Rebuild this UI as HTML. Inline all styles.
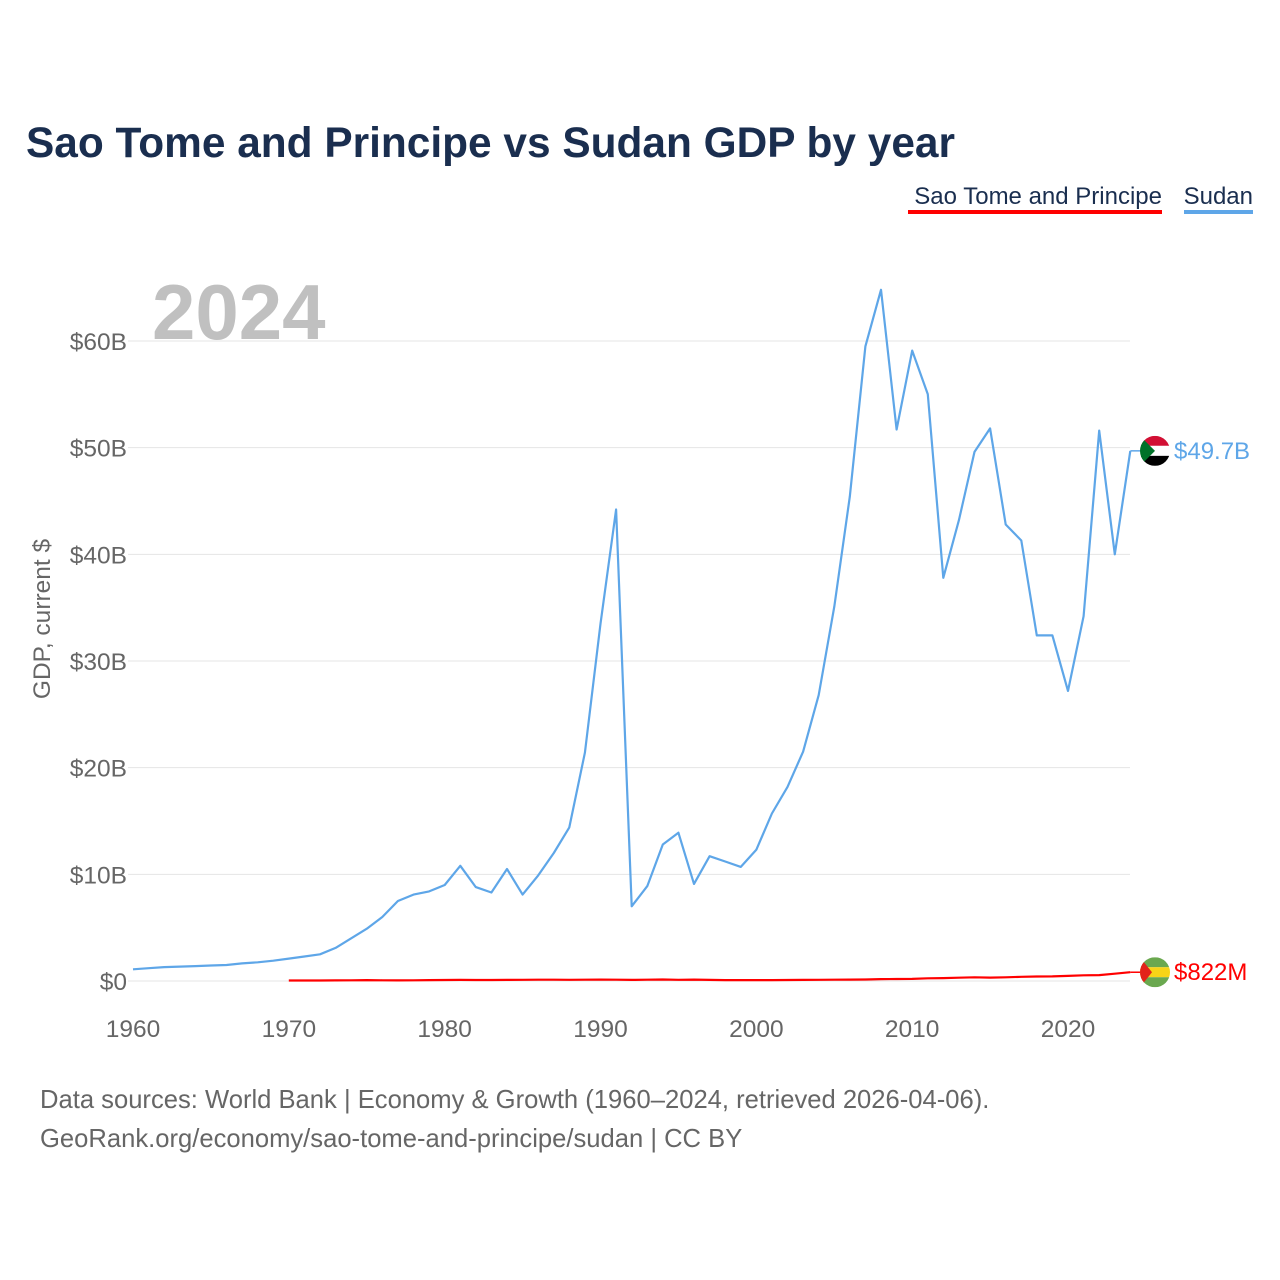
<!DOCTYPE html>
<html><head><meta charset="utf-8"><style>
body{margin:0;background:#fff;font-family:"Liberation Sans",sans-serif;}
svg{display:block}
</style></head><body>
<svg width="1280" height="1280" viewBox="0 0 1280 1280" id="chart">
<text x="26" y="157" font-size="42.4" font-weight="bold" fill="#1a2e4f">Sao Tome and Principe vs Sudan GDP by year</text>
<g>
<text x="1162" y="204" font-size="24" fill="#1a2e4f" text-anchor="end">Sao Tome and Principe</text>
<rect x="908" y="210" width="254" height="4" fill="#ff0000"/>
</g>
<g>
<text x="1253" y="204" font-size="24" fill="#1a2e4f" text-anchor="end">Sudan</text>
<rect x="1184" y="210" width="69" height="4" fill="#5ea6e8"/>
</g>
<text x="152" y="339" font-size="78" font-weight="bold" fill="#c0c0c0">2024</text>
<g id="grid"></g><g id="yt"></g><g id="xt"></g>
<text transform="translate(50,619) rotate(-90)" font-size="24.5" fill="#666" text-anchor="middle">GDP, current $</text>
<g id="lines"></g>
<text x="40" y="1108" font-size="25.6" fill="#666">Data sources: World Bank | Economy &amp; Growth (1960–2024, retrieved 2026-04-06).</text>
<text x="40" y="1147" font-size="25.6" fill="#666">GeoRank.org/economy/sao-tome-and-principe/sudan | CC BY</text>
</svg>
<script>
const sudanStart = 1960;
const sudanValues = [1.1,1.2,1.3,1.35,1.4,1.45,1.5,1.65,1.75,1.9,2.1,2.3,2.5,3.1,4.0,4.9,6.0,7.5,8.1,8.4,9.0,10.8,8.8,8.3,10.5,8.1,9.9,12.0,14.4,21.4,33.5,44.2,7.0,8.9,12.8,13.9,9.1,11.7,11.2,10.7,12.3,15.7,18.2,21.5,26.8,35.1,45.4,59.5,64.8,51.7,59.1,55.0,37.8,43.2,49.6,51.8,42.8,41.3,32.4,32.4,27.2,34.2,51.6,40.0,49.7];
const stpStart = 1970;
const stpValues = [0.05,0.05,0.05,0.06,0.07,0.08,0.07,0.06,0.07,0.08,0.09,0.1,0.09,0.09,0.1,0.11,0.12,0.12,0.11,0.12,0.13,0.12,0.1,0.12,0.14,0.11,0.13,0.1,0.08,0.08,0.08,0.08,0.09,0.1,0.11,0.12,0.13,0.14,0.18,0.19,0.2,0.25,0.27,0.31,0.35,0.32,0.35,0.39,0.42,0.43,0.48,0.53,0.55,0.68,0.822];
const yTicks = [0,10,20,30,40,50,60];
const yTickLabels = ["$0","$10B","$20B","$30B","$40B","$50B","$60B"];
const xTicks = [1960,1970,1980,1990,2000,2010,2020];
const x = yr => 133 + (yr-1960)*(935/60);
const y = v => 981 - v*10.667;
const NS="http://www.w3.org/2000/svg";
function mk(tag, attrs, parent){const e=document.createElementNS(NS,tag);for(const k in attrs)e.setAttribute(k,attrs[k]);parent.appendChild(e);return e;}
const grid=document.getElementById('grid'), yt=document.getElementById('yt'), xt=document.getElementById('xt'), lines=document.getElementById('lines');
yTicks.forEach((t,i)=>{
  const l=mk('line',{x1:128,x2:1130,y1:y(t),y2:y(t),stroke:'#e4e4e4','stroke-width':1},grid);
  
  
  const tx=mk('text',{x:127,y:y(t)+9,'font-size':24.5,fill:'#666','text-anchor':'end'},yt);
  tx.textContent=yTickLabels[i];
  
  
});
xTicks.forEach(t=>{
  const tx=mk('text',{x:x(t),y:1037,'font-size':24.5,fill:'#666','text-anchor':'middle'},xt);
  tx.textContent=t;
  
  
});
function path(start, vals){return vals.map((v,i)=>(i?'L':'M')+x(start+i).toFixed(1)+','+y(v).toFixed(1)).join('');}
const ps=mk('path',{d:path(sudanStart,sudanValues),fill:'none',stroke:'#5ea6e8','stroke-width':2.2,'stroke-linejoin':'round'},lines);


const pt=mk('path',{d:path(stpStart,stpValues),fill:'none',stroke:'#ff0000','stroke-width':2.2,'stroke-linejoin':'round'},lines);


const sx=1155, sy=y(sudanValues[sudanValues.length-1]);
const sg=mk('g',{},lines);


mk('line',{x1:x(2024),x2:sx-14,y1:sy,y2:sy,stroke:'#5ea6e8','stroke-width':1.5},sg);
mk('clipPath',{id:'c1'},sg).appendChild(document.createElementNS(NS,'circle'));
const c1=document.querySelector('#c1 circle');c1.setAttribute('cx',sx);c1.setAttribute('cy',sy);c1.setAttribute('r',15);
const f1=mk('g',{'clip-path':'url(#c1)'},sg);
mk('rect',{x:sx-15,y:sy-15,width:30,height:10,fill:'#d21034'},f1);
mk('rect',{x:sx-15,y:sy-5,width:30,height:10,fill:'#fff'},f1);
mk('rect',{x:sx-15,y:sy+5,width:30,height:10,fill:'#000'},f1);
mk('polygon',{points:`${sx-15},${sy-15} ${sx},${sy} ${sx-15},${sy+15}`,fill:'#007229'},f1);
const l1=mk('text',{x:1174,y:sy+8,'font-size':24,fill:'#5ea6e8'},sg);l1.textContent='$49.7B';
const tyv=y(stpValues[stpValues.length-1]);
const tg=mk('g',{},lines);


mk('line',{x1:x(2024),x2:sx-14,y1:tyv,y2:tyv,stroke:'#ff0000','stroke-width':1.5},tg);
mk('clipPath',{id:'c2'},tg).appendChild(document.createElementNS(NS,'circle'));
const c2=document.querySelector('#c2 circle');c2.setAttribute('cx',sx);c2.setAttribute('cy',tyv);c2.setAttribute('r',15);
const f2=mk('g',{'clip-path':'url(#c2)'},tg);
mk('rect',{x:sx-15,y:tyv-15,width:30,height:10,fill:'#6aa84f'},f2);
mk('rect',{x:sx-15,y:tyv-5,width:30,height:10,fill:'#f7d417'},f2);
mk('rect',{x:sx-15,y:tyv+5,width:30,height:10,fill:'#6aa84f'},f2);
mk('polygon',{points:`${sx-15},${tyv-15} ${sx-3},${tyv} ${sx-15},${tyv+15}`,fill:'#e2231a'},f2);
const l2=mk('text',{x:1174,y:tyv+8,'font-size':24,fill:'#ff0000'},tg);l2.textContent='$822M';
</script>
</body></html>
